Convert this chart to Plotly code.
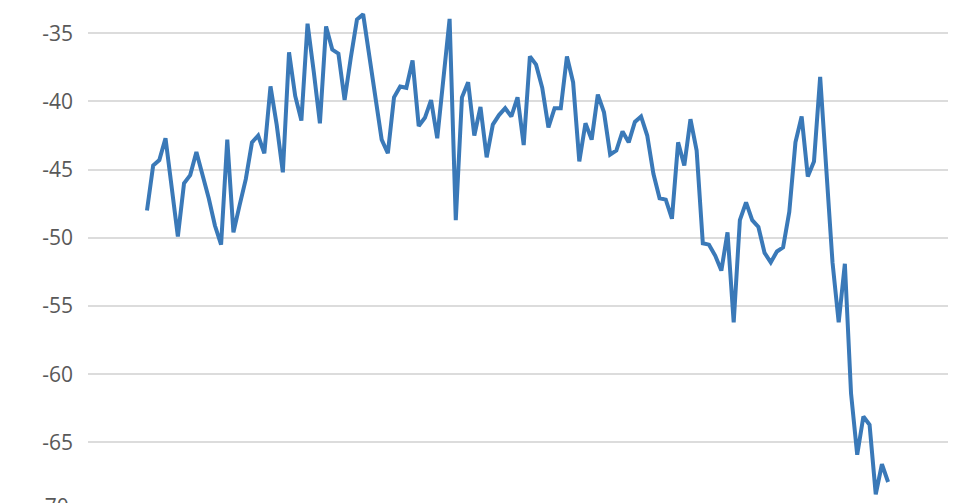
import plotly.graph_objects as go

# Monthly index values, 121 points
values = [
    -48.0, -44.7, -44.3, -42.7, -46.3, -49.9, -46.0, -45.4, -43.7, -45.4,
    -47.1, -49.1, -50.5, -42.8, -49.6, -47.6, -45.7, -43.0, -42.5, -43.8,
    -38.9, -41.7, -45.2, -36.4, -39.6, -41.4, -34.3, -37.8, -41.6, -34.5,
    -36.2, -36.5, -39.9, -36.8, -34.0, -33.6, -36.6, -39.5, -42.8, -43.8,
    -39.7, -38.9, -39.0, -37.0, -41.8, -41.2, -39.9, -42.7, -38.1, -33.95,
    -48.7, -39.7, -38.6, -42.5, -40.4, -44.1, -41.7, -41.0, -40.5, -41.1,
    -39.7, -43.2, -36.7, -37.3, -39.0, -41.9, -40.5, -40.5, -36.7, -38.6,
    -44.4, -41.6, -42.8, -39.5, -40.8, -43.9, -43.6, -42.2, -43.0, -41.5,
    -41.1, -42.5, -45.3, -47.1, -47.2, -48.6, -43.0, -44.7, -41.3, -43.6,
    -50.4, -50.5, -51.3, -52.4, -49.6, -56.2, -48.7, -47.4, -48.7, -49.2,
    -51.1, -51.8, -51.0, -50.7, -48.1, -43.0, -41.1, -45.5, -44.4, -38.2,
    -45.0, -51.8, -56.2, -51.9, -61.4, -65.9, -63.1, -63.7, -68.8, -66.6,
    -67.9,
]
months = list(range(len(values)))
tick_vals = [-35, -40, -45, -50, -55, -60, -65]
tick_text = ["-35", "-40", "-45", "-50", "-55", "-60", "-65"]
extra_label = "-70"
extra_value = -70

y_range = [-69.44, -33.15]

fig = go.Figure()
fig.add_trace(go.Scatter(
    x=months, y=values, mode="lines",
    line=dict(color="#3a79b8", width=4),
    hoverinfo="skip",
))

# bottom tick label, cut by the lower edge like in the reference
fig.add_annotation(
    x=0, xref="paper", xanchor="right", xshift=-17,
    y=(extra_value - y_range[0]) / (y_range[1] - y_range[0]), yref="paper",
    yanchor="middle", yshift=5,
    text=extra_label, showarrow=False,
    font=dict(family="Open Sans", size=21, color="#595959"),
)

fig.update_layout(
    width=954, height=495,
    margin=dict(l=80, r=14, t=0, b=0),
    paper_bgcolor="white", plot_bgcolor="white",
    showlegend=False,
    xaxis=dict(range=[-9.55, 129.7], showgrid=False, zeroline=False,
               showticklabels=False, showline=False, ticks=""),
    yaxis=dict(range=y_range, tickvals=tick_vals, ticktext=tick_text,
               showgrid=True, gridcolor="#dcdcdc", gridwidth=2,
               zeroline=False, showline=False, ticks="",
               ticklabelstandoff=14,
               tickfont=dict(family="Open Sans", size=21, color="#595959")),
)

fig.write_html("out.html")
